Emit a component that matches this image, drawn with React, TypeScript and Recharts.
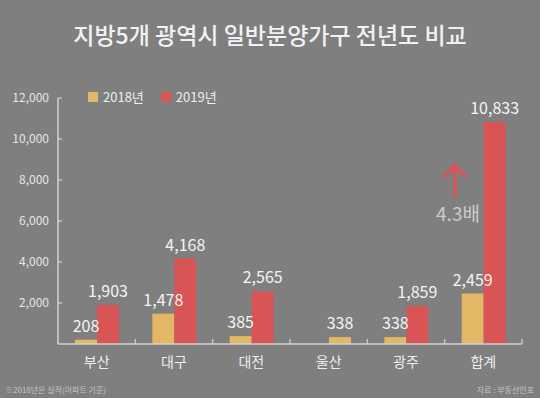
import React from 'react';
import { BarChart, Bar, XAxis, YAxis, LabelList, Cell } from 'recharts';

const categories = ['부산', '대구', '대전', '울산', '광주', '합계'];
const values2018: (number | null)[] = [208, 1478, 385, null, 338, 2459];
// 울산 is drawn in the 2019 slot with the 2018 colour in the original graphic
const values2019: (number | null)[] = [1903, 4168, 2565, 338, 1859, 10833];
const seriesNames = ['2018년', '2019년'];
const yTicks = [0, 2000, 4000, 6000, 8000, 10000, 12000];
const title = '지방5개 광역시 일반분양가구 전년도 비교';
const footnote = '※2018년은 실적(아파트 기준)';
const source = '자료 : 부동산인포';
const annotation = '4.3배';

const COLOR_2018 = '#e2b766';
const COLOR_2019 = '#d95454';
const BG = '#7f7f7f';
const AXIS = '#d2d2d2';
const FONT = '"Noto Sans CJK KR", "Noto Sans", sans-serif';

const data = categories.map((c, i) => ({ name: c, y2018: values2018[i], y2019: values2019[i] }));

const fmt = (v: any) => (v == null ? '' : Number(v).toLocaleString('en-US'));

const YTick = (props: any) => {
  const { x, y, payload } = props;
  if (payload.value === 0) return null;
  return (
    <g>
      <line x1={x} x2={x + 4} y1={y} y2={y} stroke={AXIS} strokeWidth={1.2} />
      <text x={x - 9} y={y} dy={4} textAnchor="end" fill="#e6e6e6" fontSize={12} fontFamily={FONT}>
        {fmt(payload.value)}
      </text>
    </g>
  );
};

const XTick = (props: any) => {
  const { x, y, payload } = props;
  const off = payload.offset ?? 38.7;
  return (
    <g>
      <line x1={x + off} x2={x + off} y1={y} y2={y - 5} stroke={AXIS} strokeWidth={1.2} />
      <text x={x} y={y + 23} textAnchor="middle" fill="#eeeeee" fontSize={14} fontFamily={FONT}>
        {payload.value}
      </text>
    </g>
  );
};

export default function App() {
  return (
    <div style={{ position: 'absolute', left: 0, top: 0, width: 540, height: 398, background: BG, fontFamily: FONT, overflow: 'hidden' }}>
      <div style={{ position: 'absolute', left: 0, width: 540, top: 17, textAlign: 'center', color: '#f2f2f2', fontSize: 23, fontWeight: 500, lineHeight: '34px' }}>
        {title}
      </div>
      <div style={{ position: 'absolute', left: 88, top: 89, display: 'flex', alignItems: 'center', fontSize: 13, color: '#eeeeee' }}>
        {seriesNames.map((n, i) => (
          <div key={n} style={{ display: 'flex', alignItems: 'center', marginRight: i === 0 ? 17 : 0 }}>
            <div style={{ width: 10, height: 10, background: i === 0 ? COLOR_2018 : COLOR_2019, marginRight: 5 }} />
            <span style={{ lineHeight: '16px' }}>{n}</span>
          </div>
        ))}
      </div>
      <div style={{ position: 'absolute', left: 0, top: 0 }}>
        <BarChart width={540} height={398} data={data} margin={{ top: 98, right: 18, bottom: 24, left: 8 }} barGap={0} barSize={22}>
          <YAxis
            domain={[0, 12000]}
            ticks={yTicks}
            width={50}
            tickSize={0}
            tickMargin={0}
            tickLine={false}
            axisLine={{ stroke: AXIS, strokeWidth: 1.5 }}
            tick={<YTick />}
            interval={0}
          />
          <XAxis
            dataKey="name"
            height={30}
            tickSize={0}
            tickMargin={0}
            tickLine={false}
            axisLine={{ stroke: AXIS, strokeWidth: 1.5 }}
            tick={<XTick />}
            interval={0}
          />
          <Bar dataKey="y2018" fill={COLOR_2018} isAnimationActive={false}>
            <LabelList dataKey="y2018" position="top" offset={8} fill="#f4f4f4" fontSize={16} fontFamily={FONT} formatter={fmt} />
          </Bar>
          <Bar dataKey="y2019" fill={COLOR_2019} isAnimationActive={false}>
            {data.map((d, i) => (
              <Cell key={i} fill={d.name === '울산' ? COLOR_2018 : COLOR_2019} />
            ))}
            <LabelList dataKey="y2019" position="top" offset={8} fill="#f4f4f4" fontSize={16} fontFamily={FONT} formatter={fmt} />
          </Bar>
        </BarChart>
      </div>
      <svg style={{ position: 'absolute', left: 0, top: 0 }} width={540} height={398}>
        <line x1={455} x2={455} y1={166} y2={197} stroke={COLOR_2019} strokeWidth={3.5} />
        <polyline points="444,177 455,165 466,177" fill="none" stroke={COLOR_2019} strokeWidth={3.5} />
        <text x={458} y={221} textAnchor="middle" fill="#cccccc" fontSize={19} fontFamily={FONT}>{annotation}</text>
        <text x={5} y={393} fill="#c4c4c4" fontSize={8} fontFamily={FONT}>{footnote}</text>
        <text x={534} y={393} textAnchor="end" fill="#c4c4c4" fontSize={8} fontFamily={FONT}>{source}</text>
      </svg>
    </div>
  );
}
